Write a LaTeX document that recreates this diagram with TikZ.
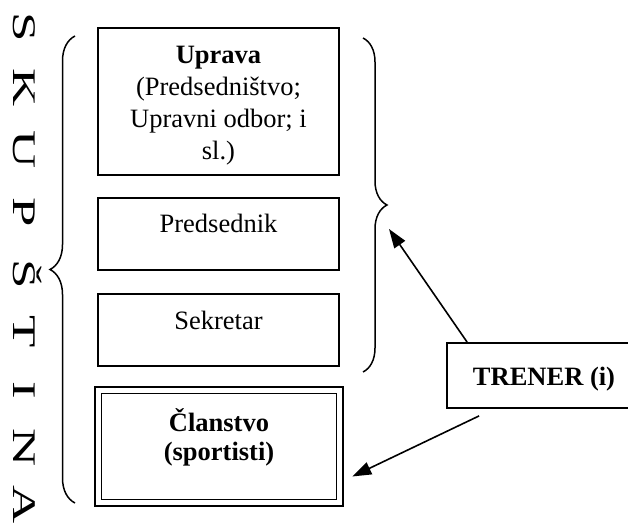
\documentclass[tikz,border=0pt]{standalone}
\usepackage{fontspec}
\usepackage{graphicx}
\setmainfont{Liberation Serif}
\usetikzlibrary{arrows.meta,decorations.pathreplacing,calc}
\begin{document}
\begin{tikzpicture}[x=1pt,y=-1pt,
  frame/.style={draw, line width=1.8pt, inner sep=0pt},
  body/.style={font=\fontsize{26.5}{32}\selectfont, align=center, inner sep=0pt, anchor=base},
  letter/.style={rotate=-90, anchor=base, inner sep=0pt, font=\fontsize{33}{33}\selectfont},
  curly/.style={decorate, line width=1.5pt, decoration={brace, amplitude=#1}},
  pointer/.style={line width=1.6pt, -{Triangle[length=19pt,width=13pt]}}
]
\useasboundingbox (0,0) rectangle (628,526);

% vertical title, one stretched letter at a time
\newcommand{\vl}[1]{\scalebox{1.6}[1]{#1}}
\node[letter] (l1) at (13,27)  {\vl{S}};
\node[letter] (l2) at (13,88)  {\vl{K}};
\node[letter] (l3) at (13,150) {\vl{U}};
\node[letter] (l4) at (13,212) {\vl{P}};
\node[letter] (l5) at (13,274) {\vl{Š}};
\node[letter] (l6) at (13,332) {\vl{T}};
\node[letter] (l7) at (13,390) {\vl{I}};
\node[letter] (l8) at (13,448) {\vl{N}};
\node[letter] (l9) at (13,505) {\vl{A}};

% organisation boxes (multi-line texts are anchored at their last baseline)
\node[frame, minimum width=241pt, minimum height=147pt] (uprava) at (218.5,101.5) {};
\node[body] (upravatext) at (218.5,160)
  {\textbf{Uprava}\\(Predsedništvo;\\Upravni odbor; i\\sl.)};

\node[frame, minimum width=241pt, minimum height=72pt] (predsednik) at (218.5,234) {};
\node[body] (predsedniktext) at (218.5,233) {Predsednik};

\node[frame, minimum width=241pt, minimum height=72pt] (sekretar) at (218.5,330) {};
\node[body] (sekretartext) at (218.5,329) {Sekretar};

% membership box with a double frame
\node[draw, line width=2.6pt, inner sep=0pt, minimum width=248pt, minimum height=119pt] (clanstvo) at (219,446.5) {};
\node[draw, line width=1.6pt, inner sep=0pt, minimum width=235pt, minimum height=106pt] (clanstvoinner) at (219,446.5) {};
\node[body, font=\fontsize{26.5}{29}\selectfont\bfseries] (clanstvotext) at (219,460) {Članstvo\\(sportisti)};

% coach box
\node[frame, minimum width=194pt, minimum height=65pt] (trener) at (544,375.5) {};
\node[body, font=\fontsize{26.5}{32}\selectfont\bfseries] (trenertext) at (544,385) {TRENER (i)};

% braces
\coordinate (lbtop) at (75,36);
\coordinate (lbbot) at (75,503);
\draw[curly=25pt] (lbbot) -- (lbtop);
\coordinate (rbtop) at (363,38);
\coordinate (rbbot) at (363,372);
\draw[curly=24pt] (rbtop) -- (rbbot);

% arrows from the coach
\coordinate (aim1) at (389,229);
\coordinate (aim2) at ($(clanstvo.east)+(8,30)$);
\draw[pointer] ($(trener.north west)+(21,0)$) -- (aim1);
\draw[pointer] ($(trener.south west)+(33,7)$) -- (aim2);
\end{tikzpicture}
\end{document}
